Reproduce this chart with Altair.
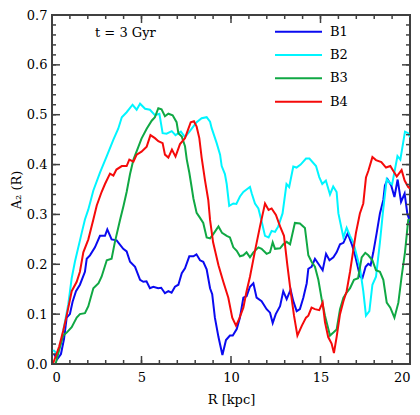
import altair as alt
import pandas as pd

W, H = 358, 349
FRAME = "#404040"
FONT = "DejaVu Serif"
FS = 13

series = ["B1", "B2", "B3", "B4"]
colors = ["#0a0af0", "#00f5ff", "#10a844", "#f50a0a"]

b1_x = [0.1, 0.3, 0.5, 0.67, 0.82, 1.0, 1.15, 1.34, 1.56, 1.84, 1.94, 2.12, 2.4, 2.68, 2.96, 3.09, 3.33, 3.61, 3.98, 4.17, 4.36, 4.64, 4.92, 5.1, 5.28, 5.47, 5.66, 5.93, 6.1, 6.31, 6.5, 6.68, 6.87, 7.06, 7.25, 7.43, 7.67, 7.9, 8.07, 8.27, 8.45, 8.64, 8.83, 8.95, 9.1, 9.3, 9.52, 9.72, 9.94, 10.1, 10.32, 10.5, 10.69, 10.87, 11.06, 11.25, 11.43, 11.71, 11.99, 12.18, 12.33, 12.5, 12.74, 12.92, 13.11, 13.33, 13.48, 13.67, 13.85, 14.04, 14.23, 14.32, 14.5, 14.69, 14.88, 15.12, 15.31, 15.5, 15.72, 15.9, 16.09, 16.28, 16.52, 16.75, 16.93, 17.21, 17.34, 17.52, 17.67, 17.8, 17.95, 18.14, 18.32, 18.51, 18.6, 18.75, 18.95, 19.13, 19.31, 19.5, 19.7, 19.85, 20.0]
b1_y = [0.02, 0.01, 0.02, 0.05, 0.093, 0.1, 0.125, 0.146, 0.159, 0.185, 0.211, 0.218, 0.234, 0.257, 0.257, 0.27, 0.25, 0.248, 0.231, 0.226, 0.205, 0.195, 0.169, 0.165, 0.166, 0.152, 0.155, 0.152, 0.153, 0.142, 0.146, 0.143, 0.155, 0.159, 0.182, 0.192, 0.216, 0.216, 0.22, 0.208, 0.205, 0.19, 0.152, 0.14, 0.093, 0.054, 0.018, 0.048, 0.057, 0.057, 0.07, 0.093, 0.133, 0.136, 0.155, 0.162, 0.133, 0.126, 0.11, 0.103, 0.082, 0.1, 0.116, 0.146, 0.13, 0.149, 0.126, 0.106, 0.11, 0.133, 0.162, 0.191, 0.195, 0.211, 0.201, 0.188, 0.221, 0.208, 0.214, 0.224, 0.24, 0.243, 0.262, 0.24, 0.218, 0.175, 0.172, 0.195, 0.201, 0.198, 0.224, 0.263, 0.302, 0.329, 0.358, 0.37, 0.358, 0.335, 0.37, 0.325, 0.342, 0.302, 0.285]

b2_x = [0.07, 0.3, 0.5, 0.63, 0.91, 1.1, 1.28, 1.66, 1.84, 2.03, 2.31, 2.68, 3.06, 3.43, 3.7, 3.9, 4.17, 4.5, 4.73, 4.92, 5.2, 5.47, 5.75, 6.0, 6.18, 6.4, 6.69, 6.9, 7.2, 7.43, 7.7, 8.08, 8.36, 8.64, 8.83, 8.92, 9.2, 9.39, 9.48, 9.66, 9.76, 9.9, 10.13, 10.3, 10.5, 10.69, 10.87, 11.06, 11.16, 11.34, 11.53, 11.72, 11.9, 12.1, 12.27, 12.46, 12.64, 12.88, 13.1, 13.25, 13.48, 13.66, 13.89, 14.19, 14.38, 14.75, 14.93, 15.1, 15.3, 15.53, 15.71, 15.9, 16.0, 16.28, 16.46, 16.65, 16.84, 17.02, 17.21, 17.39, 17.54, 17.73, 17.9, 18.1, 18.32, 18.5, 18.7, 18.86, 19.0, 19.3, 19.46, 19.72, 19.9, 20.0]
b2_y = [0.028, 0.02, 0.04, 0.067, 0.12, 0.172, 0.205, 0.263, 0.29, 0.31, 0.348, 0.384, 0.417, 0.45, 0.472, 0.495, 0.505, 0.52, 0.51, 0.522, 0.512, 0.51, 0.499, 0.502, 0.463, 0.462, 0.467, 0.459, 0.466, 0.455, 0.467, 0.485, 0.493, 0.495, 0.486, 0.473, 0.443, 0.42, 0.397, 0.381, 0.361, 0.317, 0.322, 0.321, 0.336, 0.345, 0.35, 0.355, 0.342, 0.322, 0.312, 0.285, 0.257, 0.254, 0.267, 0.265, 0.276, 0.302, 0.361, 0.355, 0.396, 0.394, 0.4, 0.412, 0.412, 0.397, 0.375, 0.361, 0.368, 0.34, 0.356, 0.345, 0.302, 0.254, 0.273, 0.257, 0.243, 0.218, 0.191, 0.146, 0.097, 0.106, 0.159, 0.175, 0.244, 0.309, 0.371, 0.364, 0.36, 0.417, 0.41, 0.466, 0.463, 0.455]

b3_x = [0.2, 0.45, 0.63, 0.82, 1.1, 1.38, 1.56, 1.84, 2.03, 2.31, 2.6, 2.77, 3.06, 3.33, 3.51, 3.8, 4.0, 4.17, 4.36, 4.55, 4.83, 5.0, 5.29, 5.57, 5.75, 5.94, 6.12, 6.31, 6.5, 6.74, 6.96, 7.06, 7.25, 7.43, 7.53, 7.67, 7.8, 7.9, 8.08, 8.27, 8.45, 8.64, 8.83, 9.0, 9.3, 9.5, 9.76, 9.94, 10.13, 10.32, 10.5, 10.69, 10.87, 11.06, 11.25, 11.53, 11.71, 11.99, 12.18, 12.33, 12.46, 12.74, 12.92, 13.11, 13.3, 13.57, 13.85, 14.13, 14.32, 14.5, 14.69, 14.88, 15.07, 15.25, 15.43, 15.53, 15.72, 15.9, 16.09, 16.28, 16.46, 16.65, 16.87, 17.1, 17.3, 17.5, 17.67, 17.9, 18.1, 18.32, 18.51, 18.7, 18.9, 19.13, 19.35, 19.53, 19.72, 19.9, 20.0]
b3_y = [0.0, 0.035, 0.057, 0.063, 0.074, 0.093, 0.1, 0.102, 0.116, 0.152, 0.162, 0.175, 0.208, 0.211, 0.244, 0.289, 0.318, 0.345, 0.381, 0.41, 0.436, 0.452, 0.472, 0.488, 0.495, 0.513, 0.511, 0.497, 0.502, 0.499, 0.485, 0.463, 0.456, 0.437, 0.41, 0.384, 0.355, 0.332, 0.303, 0.293, 0.283, 0.254, 0.252, 0.26, 0.276, 0.263, 0.257, 0.254, 0.234, 0.227, 0.216, 0.218, 0.224, 0.214, 0.224, 0.234, 0.231, 0.221, 0.224, 0.244, 0.231, 0.232, 0.24, 0.245, 0.24, 0.283, 0.282, 0.273, 0.218, 0.205, 0.195, 0.169, 0.129, 0.097, 0.071, 0.057, 0.063, 0.069, 0.11, 0.133, 0.143, 0.152, 0.169, 0.172, 0.214, 0.223, 0.218, 0.208, 0.188, 0.185, 0.169, 0.123, 0.113, 0.093, 0.123, 0.175, 0.224, 0.289, 0.29]

b4_x = [0.07, 0.4, 0.63, 0.82, 1.1, 1.38, 1.56, 1.75, 2.03, 2.31, 2.5, 2.77, 2.96, 3.24, 3.43, 3.6, 3.9, 4.17, 4.32, 4.55, 4.73, 5.0, 5.29, 5.5, 5.75, 5.94, 6.18, 6.31, 6.5, 6.7, 6.9, 7.15, 7.43, 7.75, 7.93, 8.08, 8.23, 8.36, 8.55, 8.73, 8.83, 9.0, 9.3, 9.57, 9.85, 10.07, 10.28, 10.45, 10.69, 10.87, 11.06, 11.34, 11.62, 11.9, 12.1, 12.27, 12.51, 12.74, 12.96, 13.15, 13.33, 13.52, 13.71, 13.96, 14.19, 14.32, 14.5, 14.69, 14.93, 15.12, 15.25, 15.43, 15.62, 15.75, 15.9, 16.09, 16.28, 16.46, 16.65, 16.8, 16.98, 17.2, 17.39, 17.54, 17.67, 17.9, 18.1, 18.4, 18.66, 18.9, 19.07, 19.26, 19.53, 19.7, 19.9, 20.0]
b4_y = [0.002, 0.035, 0.067, 0.097, 0.146, 0.165, 0.185, 0.224, 0.25, 0.29, 0.318, 0.345, 0.361, 0.382, 0.378, 0.39, 0.397, 0.397, 0.41, 0.406, 0.42, 0.426, 0.436, 0.459, 0.453, 0.447, 0.443, 0.42, 0.414, 0.43, 0.416, 0.441, 0.453, 0.485, 0.487, 0.476, 0.453, 0.414, 0.368, 0.329, 0.289, 0.244, 0.198, 0.165, 0.133, 0.093, 0.077, 0.09, 0.113, 0.146, 0.175, 0.227, 0.276, 0.322, 0.309, 0.312, 0.299, 0.276, 0.257, 0.198, 0.146, 0.097, 0.057, 0.077, 0.093, 0.097, 0.113, 0.11, 0.108, 0.123, 0.084, 0.054, 0.041, 0.022, 0.054, 0.1, 0.126, 0.146, 0.185, 0.221, 0.263, 0.302, 0.322, 0.374, 0.387, 0.415, 0.409, 0.405, 0.394, 0.397, 0.387, 0.376, 0.389, 0.368, 0.355, 0.352]

x_major = [0, 5, 10, 15, 20]
x_minor = list(range(0, 21))
y_major = [0.0, 0.1, 0.2, 0.3, 0.4, 0.5, 0.6, 0.7]
y_minor = [round(i * 0.02, 2) for i in range(36)]

rows = []
for name, xs, ys in zip(series, [b1_x, b2_x, b3_x, b4_x], [b1_y, b2_y, b3_y, b4_y]):
    for i, (xv, yv) in enumerate(zip(xs, ys)):
        rows.append({"series": name, "R": xv, "A2": yv, "idx": i})
df = pd.DataFrame(rows)

xscale = alt.Scale(domain=[0, 20], nice=False, zero=False)
yscale = alt.Scale(domain=[0, 0.7], nice=False, zero=False)
cscale = alt.Scale(domain=series, range=colors)
x_axis = alt.Axis(values=x_major, title="R [kpc]", labelPadding=7, titlePadding=9)

lines = alt.Chart(df).mark_line(strokeWidth=2, clip=True).encode(
    x=alt.X("R:Q", scale=xscale, axis=x_axis),
    y=alt.Y("A2:Q", scale=yscale,
            axis=alt.Axis(values=y_major, format=".1f", title="A\u2082 (R)", labelPadding=5, titlePadding=3)),
    color=alt.Color("series:N", scale=cscale, legend=None),
    order="idx:Q",
)


def xticks(vals, length):
    d = pd.DataFrame({"v": vals})
    base = alt.Chart(d).encode(x=alt.X("v:Q", scale=xscale, axis=x_axis))
    bottom = base.mark_rule(color=FRAME, strokeWidth=1.5).encode(y=alt.value(H), y2=alt.value(H - length))
    top = base.mark_rule(color=FRAME, strokeWidth=1.5).encode(y=alt.value(0), y2=alt.value(length))
    return [bottom, top]


def yticks(vals, length):
    d = pd.DataFrame({"v": vals})
    base = alt.Chart(d).encode(y=alt.Y("v:Q", scale=yscale, axis=None))
    left = base.mark_rule(color=FRAME, strokeWidth=1.5).encode(x=alt.value(0), x2=alt.value(length))
    right = base.mark_rule(color=FRAME, strokeWidth=1.5).encode(x=alt.value(W), x2=alt.value(W - length))
    return [left, right]


ticks = xticks(x_minor, 4) + xticks(x_major, 8) + yticks(y_minor, 4) + yticks(y_major, 8)

leg_df = pd.DataFrame({"series": series})
leg_y = alt.Y("series:N", scale=alt.Scale(type="point", domain=series, range=[16.7, 86.7], padding=0), axis=None)
leg_lines = alt.Chart(leg_df).mark_rule(strokeWidth=2).encode(
    x=alt.value(223), x2=alt.value(270), y=leg_y,
    color=alt.Color("series:N", scale=cscale, legend=None),
)
leg_text = alt.Chart(leg_df).mark_text(align="left", baseline="middle", font=FONT, fontSize=FS, color="black").encode(
    x=alt.value(278), y=leg_y, text="series:N"
)

note = alt.Chart(pd.DataFrame({"t": ["t = 3 Gyr"]})).mark_text(
    align="left", baseline="alphabetic", font=FONT, fontSize=FS, color="black"
).encode(x=alt.value(43), y=alt.value(22), text="t:N")

chart = alt.layer(lines, *ticks, leg_lines, leg_text, note).resolve_scale(y="independent").properties(
    width=W, height=H,
    autosize=alt.AutoSizeParams(type="none"),
    padding={"left": 44, "top": 7, "right": 2, "bottom": 43},
).configure_view(stroke=FRAME, strokeWidth=2).configure_axis(
    labelFont=FONT, labelFontSize=FS, labelColor="black",
    titleFont=FONT, titleFontSize=FS, titleFontWeight="normal", titleColor="black",
    grid=False, domain=False, ticks=False,
)

chart.save("out.html", embed_options={"renderer": "svg", "actions": False})
